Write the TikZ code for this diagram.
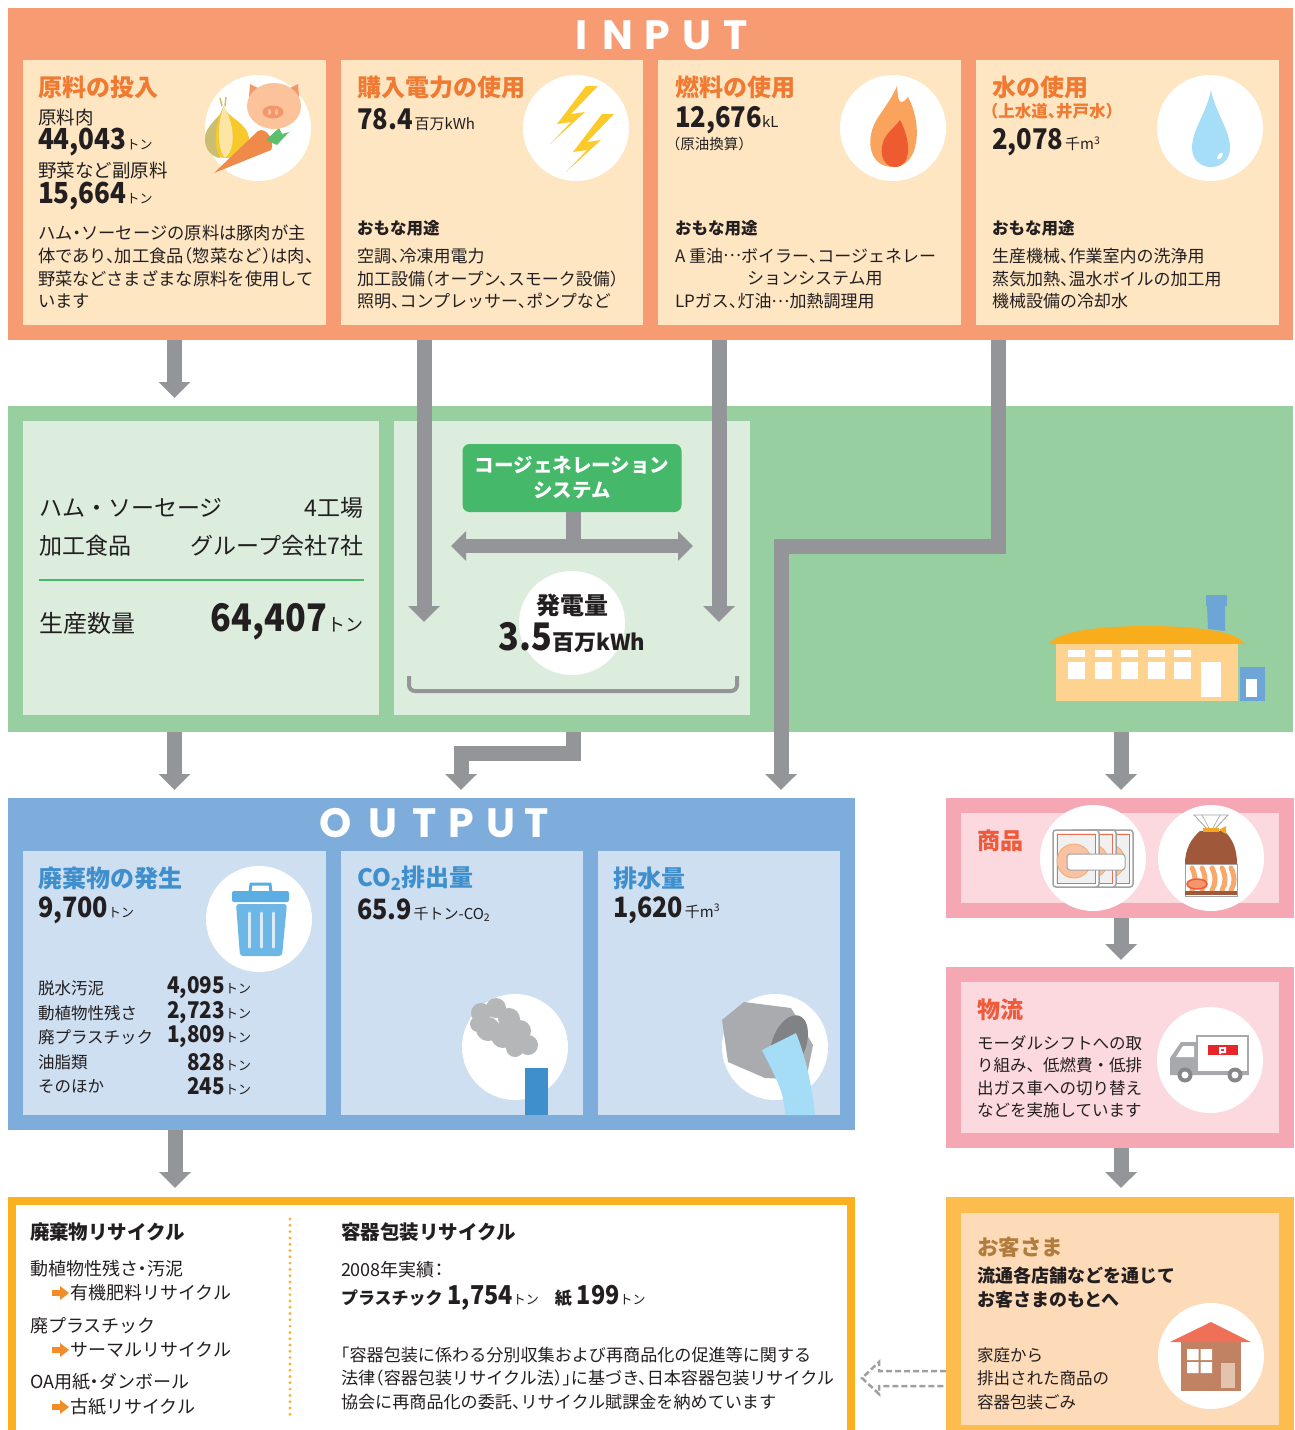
\documentclass[tikz,border=0pt]{standalone}
\usepackage{fontspec}
\setmainfont{Noto Sans CJK JP}[RawFeature=+halt]
\newfontfamily\jpf{Noto Sans CJK JP}
\newfontfamily\numf{Noto Sans CJK JP}[FakeStretch=0.9]
\newfontfamily\ltr{Poppins}
\usetikzlibrary{arrows.meta,calc,shapes.geometric}

\newcommand\fs[1]{\fontsize{#1}{#1}\selectfont}
\newcommand\nm[2]{{\bfseries\fs{#1}#2}}
\newcommand\fig[2]{{\numf\bfseries\fs{#1}#2}}
\newcommand\un[2]{{\fs{#1}#2}}
% centred ellipsis
\newcommand\jdots{\raisebox{0.33em}{…}}
% rectangular panel given by its two corners
\newcommand\panelnode[6]{\node[panel,fill=#2,minimum width=#5pt-#3pt,minimum height=#6pt-#4pt] (#1) at (#3,#4) {};}

\definecolor{inorange}{HTML}{F79B73}
\definecolor{cream}{HTML}{FEE6C3}
\definecolor{ttlorange}{HTML}{F07A32}
\definecolor{ink}{HTML}{231F20}
\definecolor{gband}{HTML}{97CFA1}
\definecolor{gpanel}{HTML}{DCEDDD}
\definecolor{cgreen}{HTML}{45B86A}
\definecolor{agrey}{HTML}{939598}
\definecolor{bband}{HTML}{7EADDC}
\definecolor{bpanel}{HTML}{CDDFF1}
\definecolor{bttl}{HTML}{3F8FCD}
\definecolor{pout}{HTML}{F5A7B4}
\definecolor{pin}{HTML}{FBD9DE}
\definecolor{rttl}{HTML}{EE5A3A}
\definecolor{kout}{HTML}{FCBD4E}
\definecolor{kin}{HTML}{FDDAB8}
\definecolor{kttl}{HTML}{B27D3C}
\definecolor{recor}{HTML}{FBB11E}
\definecolor{dotor}{HTML}{F9B233}
\definecolor{arror}{HTML}{F28C28}
\definecolor{dgrey}{HTML}{9D9FA2}
\definecolor{pighead}{HTML}{FCC39A}
\definecolor{pigdark}{HTML}{F5956A}
\definecolor{onionol}{HTML}{C9BE72}
\definecolor{onionye}{HTML}{F8C92C}
\definecolor{onioncr}{HTML}{FDE5A6}
\definecolor{carrot}{HTML}{F08A4B}
\definecolor{leaf}{HTML}{5DBE6E}
\definecolor{bolt}{HTML}{FCCB2A}
\definecolor{flameout}{HTML}{F9A35D}
\definecolor{flamein}{HTML}{EF5B30}
\definecolor{drop}{HTML}{A6DDF7}
\definecolor{canblue}{HTML}{6DB7E7}
\definecolor{lidblue}{HTML}{5AAEE3}
\definecolor{smoke}{HTML}{B4B6B8}
\definecolor{pipelt}{HTML}{A9ABAE}
\definecolor{pipedk}{HTML}{808285}
\definecolor{water}{HTML}{A5DCF6}
\definecolor{packgrey}{HTML}{A0A2A5}
\definecolor{ham}{HTML}{F9C3A3}
\definecolor{hamline}{HTML}{EE6B4D}
\definecolor{bagbrown}{HTML}{A0583A}
\definecolor{sausage}{HTML}{F7A86A}
\definecolor{tie}{HTML}{F5A623}
\definecolor{truckgrey}{HTML}{A7A9AC}
\definecolor{logored}{HTML}{E8262A}
\definecolor{roofcoral}{HTML}{F07057}
\definecolor{housebrown}{HTML}{C08262}
\definecolor{door}{HTML}{E3C3AE}
\definecolor{roofor}{HTML}{F8AD1D}
\definecolor{factory}{HTML}{FDD38F}
\definecolor{chimney}{HTML}{6DA5D7}

\begin{document}
\begin{tikzpicture}[x=1pt,y=-1pt,
  t/.style={anchor=west,inner sep=0pt,outer sep=0pt,text=ink},
  te/.style={anchor=east,inner sep=0pt,outer sep=0pt,text=ink},
  panel/.style={inner sep=0pt,outer sep=0pt,anchor=north west,draw=none},
  disc/.style={circle,fill=white,inner sep=0pt,minimum size=106pt},
  garrow/.style={draw=agrey,line width=15pt,-{Triangle[width=31pt,length=16pt]}},
  ttl/.style={t,font=\bfseries\fs{24}},
  body/.style={t,font=\fs{17}},
  letter/.style={inner sep=0pt,text=white,font=\ltr\bfseries\fs{41}}]
\useasboundingbox (0,0) rectangle (1295,1430);

% ---------------- INPUT ----------------
\panelnode{inband}{inorange}{8}{8}{1293}{340}
\foreach \c/\x [count=\i] in {I/582,N/618,P/657,U/697,T/736}
  \node[letter] (inl\i) at (\x,35) {\c};
\panelnode{p1}{cream}{23}{60}{326}{325}
\panelnode{p2}{cream}{341}{60}{643}{325}
\panelnode{p3}{cream}{658}{60}{961}{325}
\panelnode{p4}{cream}{976}{60}{1279}{325}
\node[disc] (c1) at (258,128) {};
\node[disc] (c2) at (576,128) {};
\node[disc] (c3) at (893,128) {};
\node[disc] (c4) at (1210,128) {};

% onion, carrot and pig
\fill[onionye] (224,106) .. controls (226,118) and (249,122) .. (249,140) .. controls (249,152) and (240,158) .. (227,158) .. controls (213,158) and (205,150) .. (205,139) .. controls (205,124) and (222,118) .. (224,106) -- cycle;
\fill[onionol] (224,106) .. controls (222,118) and (205,124) .. (205,139) .. controls (205,150) and (212,157) .. (220,158) .. controls (214,148) and (213,125) .. (224,106) -- cycle;
\fill[onioncr] (224,106) .. controls (216,128) and (218,150) .. (225,158) .. controls (235,150) and (236,128) .. (224,106) -- cycle;
\draw[onionol,line width=1.5pt] (222,106) -- (220,98) (225,106) -- (226,97);
\fill[carrot] (214,173) -- (258,131) .. controls (266,126) and (276,142) .. (271,150) -- cycle;
\fill[leaf] (266,140) -- (279,128) -- (282,134) -- (289,132) -- (277,145) -- cycle;
\fill[pigdark] (249,97) -- (250,84) -- (262,90) -- cycle;
\fill[pigdark] (299,97) -- (298,84) -- (286,90) -- cycle;
\fill[pighead] (274,106) ellipse (27 and 23);
\fill[pigdark] (273,112) ellipse (10.5 and 6.5);
\fill[pighead] (269.5,112) ellipse (1.6 and 3) (276.5,112) ellipse (1.6 and 3);

% lightning
\foreach \dx/\dy in {0/0,16/28}
  \fill[bolt,shift={(\dx,\dy)}] (586,86) -- (557,124) -- (571,122) -- (550,144) -- (585,112) -- (571,114) -- (598,86) -- cycle;

% flame
\fill[flameout] (893,167) .. controls (868,167) and (864,137) .. (879,116) .. controls (887,104) and (893,96) .. (897,86) .. controls (898,100) and (899,108) .. (908,97) .. controls (922,122) and (921,167) .. (893,167) -- cycle;
\fill[flamein] (895,167) .. controls (881,167) and (878,148) .. (886,136) .. controls (891,129) and (897,125) .. (900,120) .. controls (911,140) and (912,167) .. (895,167) -- cycle;

% water drop
\fill[drop] (1211,90) .. controls (1207,112) and (1192,130) .. (1192,148) .. controls (1192,160) and (1201,167) .. (1211,167) .. controls (1221,167) and (1230,160) .. (1230,148) .. controls (1230,130) and (1215,112) .. (1211,90) -- cycle;
\fill[white,rotate around={-40:(1220,156)}] (1220,156) ellipse (2 and 4);

% panel texts
\node[ttl,text=ttlorange] (p1t) at (38,87) {原料の投入};
\node[t,font=\fs{18.5}] (p1a) at (38,117) {原料肉};
\node[t] (p1b) at (38,142) {\fig{29}{44,043}\un{13}{トン}};
\node[t,font=\fs{18.5}] (p1c) at (38,170) {野菜など副原料};
\node[t] (p1d) at (38,196) {\fig{29}{15,664}\un{13}{トン}};
\foreach \s [count=\i] in {{ハム・ソーセージの原料は豚肉が主},{体であり、加工食品（惣菜など）は肉、},{野菜などさまざまな原料を使用して},{います}}
  \node[t,font=\fs{17.3}] (p1l\i) at (38,{233+(\i-1)*22.7}) {\s};

\node[ttl,text=ttlorange] (p2t) at (357,87) {購入電力の使用};
\node[t] (p2a) at (357,120) {\fig{28.5}{78.4}\,\un{15}{百万kWh}};
\node[t,font=\bfseries\fs{16.5}] (p2u) at (357,228) {おもな用途};
\foreach \s [count=\i] in {{空調、冷凍用電力},{加工設備（オープン、スモーク設備）},{照明、コンプレッサー、ポンプなど}}
  \node[body] (p2l\i) at (357,{256+(\i-1)*22.7}) {\s};

\node[ttl,text=ttlorange] (p3t) at (675,87) {燃料の使用};
\node[t] (p3a) at (675,120) {\fig{28.5}{12,676}\un{15}{kL}};
\node[t,font=\fs{14.5}] (p3b) at (673,144) {（原油換算）};
\node[t,font=\bfseries\fs{16.5}] (p3u) at (675,228) {おもな用途};
\node[body] (p3l1) at (675,256) {A 重油\jdots ボイラー、コージェネレー};
\node[body] (p3l2) at (747,278.7) {ションシステム用};
\node[body] (p3l3) at (675,301.4) {LPガス、灯油\jdots 加熱調理用};

\node[ttl,text=ttlorange] (p4t) at (992,87) {水の使用};
\node[t,text=ttlorange,font=\bfseries\fs{16.5}] (p4b) at (990,111) {（上水道、井戸水）};
\node[t] (p4a) at (992,142) {\fig{28.5}{2,078}\,\un{15}{千m\textsuperscript{3}}};
\node[t,font=\bfseries\fs{16.5}] (p4u) at (992,228) {おもな用途};
\foreach \s [count=\i] in {{生産機械、作業室内の洗浄用},{蒸気加熱、温水ボイルの加工用},{機械設備の冷却水}}
  \node[body] (p4l\i) at (992,{256+(\i-1)*22.7}) {\s};

% ---------------- plants ----------------
\panelnode{gband}{gband}{8}{406}{1293}{732}
\panelnode{lp}{gpanel}{23}{421}{379}{715}
\panelnode{mp}{gpanel}{394}{421}{750}{715}

\node[t,font=\jpf\fs{23}] (lp1) at (39,508) {ハム・ソーセージ};
\node[te,font=\jpf\fs{23}] (lp2) at (363,508) {4工場};
\node[t,font=\jpf\fs{23}] (lp3) at (39,546) {加工食品};
\node[te,font=\jpf\fs{23}] (lp4) at (363,546) {グループ会社7社};
\draw[cgreen,line width=2pt] (39,580) -- (364,580);
\node[t,font=\jpf\fs{24}] (lp5) at (39,623) {生産数量};
\node[te] (lp6) at (363,622) {\fig{38}{64,407}\un{18}{トン}};

\node[fill=cgreen,rounded corners=7pt,minimum width=219pt,minimum height=68pt,inner sep=0pt,
  text=white,font=\bfseries\fontsize{19.5}{25}\selectfont,align=center] (cogen) at (572,478) {コージェネレーション\\システム};
\coordinate (hub) at (573,546);
\draw[agrey,line width=15pt] (cogen.south -| hub) -- (hub);
\coordinate (dl) at (451,546);
\coordinate (dr) at (693,546);
\draw[agrey,line width=14pt,{Triangle[width=29pt,length=15pt]}-{Triangle[width=29pt,length=15pt]}] (dl) -- (dr);
\node[ellipse,fill=white,minimum width=106pt,minimum height=104pt,inner sep=0pt] (gen) at (572,623) {};
\node[inner sep=0pt,text=ink,font=\bfseries\fs{24}] (gen1) at (572,605) {発電量};
\node[inner sep=0pt,text=ink] (gen2) at (572,637) {\fig{38}{3.5}\nm{22}{百万kWh}};
\draw[agrey,line width=4pt,rounded corners=6pt] (409,676) -- (409,691) -- (737,691) -- (737,676);

% factory
\fill[chimney] (1206,595) rectangle (1227,606);
\fill[chimney] (1207,606) -- (1225,606) -- (1225,631) -- (1208,629) -- cycle;
\fill[roofor] (1049,644) .. controls (1060,628) and (1120,626) .. (1147,626) .. controls (1175,626) and (1235,628) .. (1245,644) -- cycle;
\node[panel,fill=factory,minimum width=182pt,minimum height=57pt] (fac) at (1056,644) {};
\foreach \x in {1068,1095,1121,1148,1174} {
  \fill[white] (\x,650) rectangle (\x+17,657);
  \fill[white] (\x,662) rectangle (\x+17,679);
}
\fill[white] (1201,662) rectangle (1221,697);
\fill[chimney] (1240,667) rectangle (1265,701);
\fill[white] (1246,679) rectangle (1257,697);

% ---------------- arrows out of INPUT and plants ----------------
\draw[garrow,shorten >=8pt] (p1.south |- inband.south) -- (p1.south |- gband.north);
\coordinate (ea) at (424,340); \coordinate (eb) at (424,622);
\draw[garrow] (ea) -- (eb);
\coordinate (fa) at (719,340); \coordinate (fb) at (719,622);
\draw[garrow] (fa) -- (fb);
\coordinate (wa) at (998,340); \coordinate (wb) at (998,546);
\coordinate (wc) at (781,546); \coordinate (wd) at (781,790);
\draw[garrow] (wa) -- (wb) -- (wc) -- (wd);
\draw[garrow,shorten >=8pt] (p1.south |- gband.south) -- (p1.south |- 0,798);
\coordinate (ga) at (573,732); \coordinate (gb) at (573,753);
\coordinate (gc) at (461,753); \coordinate (gd) at (461,790);
\draw[garrow] (ga) -- (gb) -- (gc) -- (gd);
\coordinate (sa) at (1121,732); \coordinate (sb) at (1121,790);
\draw[garrow] (sa) -- (sb);

% ---------------- OUTPUT ----------------
\panelnode{outband}{bband}{8}{798}{855}{1130}
\foreach \c/\x [count=\i] in {O/336,U/383,T/425,P/461,U/501,T/537}
  \node[letter] (outl\i) at (\x,823) {\c};
\panelnode{o1}{bpanel}{23}{851}{326}{1115}
\panelnode{o2}{bpanel}{341}{851}{583}{1115}
\panelnode{o3}{bpanel}{598}{851}{840}{1115}
\node[disc] (c5) at (259,919) {};
\node[disc] (c6) at (515,1047) {};
\node[disc] (c7) at (775,1047) {};

% waste bin
\draw[lidblue,line width=3pt] (250,892) -- (251,884) -- (270,884) -- (271,892);
\fill[lidblue,rounded corners=2pt] (232,891) rectangle (289,902);
\fill[canblue,rounded corners=3pt] (236,904) -- (287,904) -- (282,956) -- (240,956) -- cycle;
\foreach \x in {249,261,273}
  \draw[white,opacity=0.75,line width=3pt,line cap=round] (\x,913) -- (\x,947);

% smoke stack
\fill[bttl] (525,1068) rectangle (548,1115);
\fill[smoke] (481,1013) circle (10) (496,1008) circle (10) (509,1019) circle (11) (520,1031) circle (11) (528,1045) circle (10)
  (488,1029) circle (12) (503,1036) circle (12) (515,1048) circle (9) (478,1024) circle (8);

% drain pipe
\fill[pipelt] (722,1020) -- (744,1002) -- (791,1008) -- (813,1045) -- (806,1080) -- (765,1078) -- (728,1062) -- cycle;
\fill[pipedk,rotate around={-20:(789,1044)}] (789,1044) ellipse (17 and 30);
\fill[water] (762,1050) .. controls (774,1075) and (785,1092) .. (785,1115) -- (815,1115) .. controls (812,1085) and (805,1055) .. (796,1033) -- cycle;

\node[ttl,text=bttl] (o1t) at (38,878) {廃棄物の発生};
\node[t] (o1a) at (38,910) {\fig{28}{9,700}\un{13}{トン}};
\foreach \lab/\yy [count=\i] in {脱水汚泥/988,動植物性残さ/1013,廃プラスチック/1037,油脂類/1062,そのほか/1086}
  \node[t,font=\fs{16.5}] (o1l\i) at (38,\yy) {\lab};
\node[te] (o1v1) at (251,988) {\fig{23}{4,095}\un{13}{トン}};
\node[te] (o1v2) at (251,1013) {\fig{23}{2,723}\un{13}{トン}};
\node[te] (o1v3) at (251,1037) {\fig{23}{1,809}\un{13}{トン}};
\node[te] (o1v4) at (251,1062) {\fig{23}{828}\un{13}{トン}};
\node[te] (o1v5) at (251,1086) {\fig{23}{245}\un{13}{トン}};

\node[ttl,text=bttl] (o2t) at (357,878) {CO\textsubscript{2}排出量};
\node[t] (o2a) at (357,910) {\fig{28}{65.9}\,\un{15}{千トン-CO\textsubscript{2}}};
\node[ttl,text=bttl] (o3t) at (613,878) {排水量};
\node[t] (o3a) at (613,910) {\fig{28}{1,620}\,\un{15}{千m\textsuperscript{3}}};

% ---------------- products ----------------
\panelnode{shout}{pout}{946}{798}{1294}{918}
\panelnode{shin}{pin}{961}{813}{1279}{903}
\node[disc] (c8) at (1093,858) {};
\node[disc] (c9) at (1211,858) {};
\node[t,text=rttl,font=\bfseries\fs{23}] (sht) at (977,841) {商品};
\foreach \dx in {34,17,0} {
  \begin{scope}[shift={(\dx,0)}]
    \draw[packgrey,fill=white,line width=1.5pt,rounded corners=3pt] (1053,830) rectangle (1099,887);
    \fill[black!6] (1056,833) rectangle (1096,884);
    \draw[hamline,line width=1pt] (1057,834) rectangle (1095,883);
    \draw[fill=ham,draw=sausage,line width=0.8pt] (1074,861) circle (17);
  \end{scope}
}
\draw[packgrey,fill=white,line width=1pt,rounded corners=3pt] (1067,854) rectangle (1125,870);
\draw[packgrey,fill=white,line width=0.8pt] (1194,815) -- (1228,815) -- (1213,831) -- (1209,831) -- cycle;
\draw[packgrey,line width=0.6pt] (1202,815) -- (1210,830) (1220,815) -- (1212,830);
\fill[bagbrown] (1200,831) -- (1224,831) .. controls (1232,838) and (1237,848) .. (1237,864) -- (1185,864) .. controls (1185,848) and (1192,838) .. (1200,831) -- cycle;
\draw[packgrey,fill=white,line width=0.8pt] (1185,864) rectangle (1237,896);
\foreach \x in {1192,1202,1212,1222,1231}
  \draw[sausage,line width=5pt,line cap=round] (\x,868) .. controls (\x+4,876) and (\x+4,884) .. (\x,890);
\fill[bagbrown] (1185,891) rectangle (1237,895);
\draw[fill=pigdark,draw=rttl,line width=1.5pt] (1197,884) ellipse (10 and 5);
\fill[tie] (1203,828) rectangle (1219,832);
\fill[tie] (1219,830) -- (1226,826) -- (1226,834) -- cycle;

\coordinate (la) at (1121,918); \coordinate (lb) at (1121,960);
\draw[garrow] (la) -- (lb);

% ---------------- logistics ----------------
\panelnode{buout}{pout}{946}{967}{1294}{1148}
\panelnode{buin}{pin}{961}{982}{1279}{1133}
\node[disc] (c10) at (1210,1060) {};
\node[t,text=rttl,font=\bfseries\fs{23}] (but) at (977,1010) {物流};
\foreach \s [count=\i] in {{モーダルシフトへの取},{り組み、低燃費・低排},{出ガス車への切り替え},{などを実施しています}}
  \node[t,font=\jpf\fs{16.5}] (bul\i) at (977,{1043+(\i-1)*22.4}) {\s};
% truck
\draw[truckgrey,fill=white,line width=1.2pt] (1197,1036) rectangle (1248,1074);
\fill[truckgrey] (1197,1042) -- (1181,1042) -- (1170,1058) -- (1170,1075) -- (1249,1075) -- (1249,1071) -- (1197,1071) -- cycle;
\fill[white] (1183,1046) -- (1194,1046) -- (1194,1057) -- (1176,1057) -- cycle;
\foreach \x in {1185,1235} {
  \fill[truckgrey!80!black] (\x,1075) circle (7.5);
  \fill[white] (\x,1075) circle (3.5);
}
\fill[logored] (1208,1045) rectangle (1238,1055);
\fill[white] (1219,1047) rectangle (1221,1054) (1221,1047) rectangle (1226,1049) (1224,1049) rectangle (1226,1051) (1221,1051) rectangle (1226,1053);

\coordinate (ka) at (1121,1148); \coordinate (kb) at (1121,1188);
\draw[garrow] (ka) -- (kb);

% ---------------- customers ----------------
\panelnode{kyout}{kout}{946}{1197}{1294}{1430}
\panelnode{kyin}{kin}{961}{1213}{1279}{1425}
\node[disc] (c11) at (1211,1356) {};
\node[t,text=kttl,font=\bfseries\fs{21.5}] (kyt) at (977,1247) {お客さま};
\node[t,font=\bfseries\fs{18}] (ky1) at (977,1276) {流通各店舗などを通じて};
\node[t,font=\bfseries\fs{18}] (ky2) at (977,1300) {お客さまのもとへ};
\foreach \s [count=\i] in {{家庭から},{排出された商品の},{容器包装ごみ}}
  \node[t,font=\fs{16.5}] (kyl\i) at (977,{1355+(\i-1)*23.5}) {\s};
% house
\fill[housebrown] (1181,1342) rectangle (1241,1391);
\fill[roofcoral] (1170,1342) -- (1211,1322) -- (1251,1342) -- cycle;
\fill[white] (1187,1349) rectangle (1198.5,1360) (1200.5,1349) rectangle (1212,1360)
             (1187,1362) rectangle (1198.5,1373) (1200.5,1362) rectangle (1212,1373);
\fill[door] (1221,1363) rectangle (1235,1388);

% hollow dashed arrow back to the recycling box
\coordinate (d1) at (946,1371); \coordinate (d2) at (879,1371); \coordinate (d3) at (879,1362);
\coordinate (d4) at (862,1378); \coordinate (d5) at (879,1394); \coordinate (d6) at (879,1386);
\coordinate (d7) at (946,1386);
\draw[dgrey,line width=2.5pt,dash pattern=on 6pt off 3pt] (d1) -- (d2) -- (d3) -- (d4) -- (d5) -- (d6) -- (d7);

% ---------------- recycling ----------------
\coordinate (ra) at (175,1130); \coordinate (rb) at (175,1188);
\draw[garrow] (ra) -- (rb);
\node[panel,draw=recor,line width=8pt,fill=white,minimum width=839pt,minimum height=250pt] (recy) at (12,1201) {};
\draw[dotor,line width=3.2pt,line cap=round,dash pattern=on 0pt off 6.3pt] (290,1219) -- (290,1418);
\tikzset{oarrow/.pic={\fill[arror] (0,-3) rectangle (9,3); \fill[arror] (8,-7) -- (17,0) -- (8,7) -- cycle;}}

\node[t,font=\bfseries\fs{19.5}] (r1) at (30,1232) {廃棄物リサイクル};
\node[t,font=\fs{18}] (r2) at (30,1269) {動植物性残さ・汚泥};
\pic at (52,1293) {oarrow};
\node[t,font=\fs{18}] (r3) at (70,1293) {有機肥料リサイクル};
\node[t,font=\fs{18}] (r4) at (30,1326) {廃プラスチック};
\pic at (52,1350) {oarrow};
\node[t,font=\fs{18}] (r5) at (70,1350) {サーマルリサイクル};
\node[t,font=\fs{18}] (r6) at (30,1382) {OA用紙・ダンボール};
\pic at (52,1407) {oarrow};
\node[t,font=\fs{18}] (r7) at (70,1407) {古紙リサイクル};

\node[t,font=\bfseries\fs{19.5}] (r8) at (341,1232) {容器包装リサイクル};
\node[t,font=\fs{18}] (r9) at (341,1270) {2008年実績：};
\node[t] (r10) at (341,1298) {\nm{17}{プラスチック}\hspace{5pt}\fig{26}{1,754}\un{13}{トン}\hspace{16pt}\nm{17}{紙}\hspace{5pt}\fig{26}{199}\un{13}{トン}};
\foreach \s [count=\i] in {{「容器包装に係わる分別収集および再商品化の促進等に関する},{法律（容器包装リサイクル法）」に基づき、日本容器包装リサイクル},{協会に再商品化の委託、リサイクル賦課金を納めています}}
  \node[t,font=\fs{17.1}] (rl\i) at (341,{1355+(\i-1)*23.3}) {\s};
\end{tikzpicture}
\end{document}
